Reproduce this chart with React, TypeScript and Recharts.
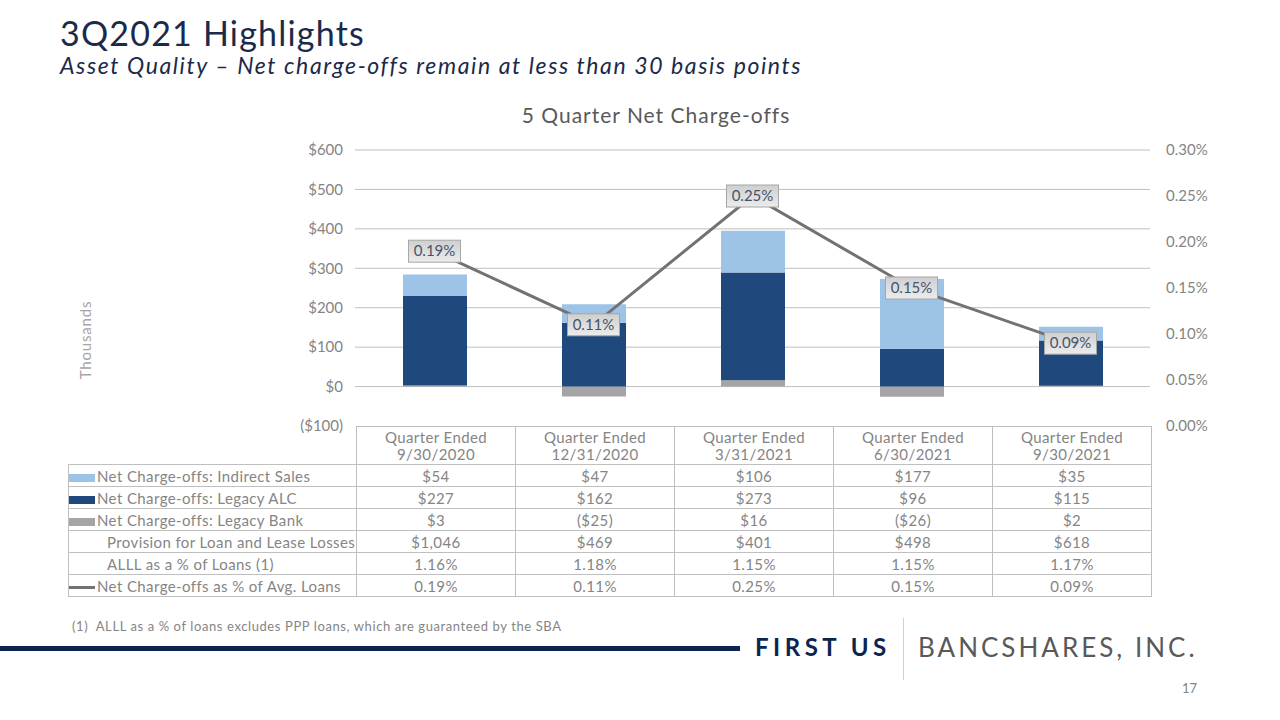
import { ComposedChart, Bar, Line, XAxis, YAxis, CartesianGrid } from 'recharts';

const quarters = ['9/30/2020', '12/31/2020', '3/31/2021', '6/30/2021', '9/30/2021'];
const indirectSales = [54, 47, 106, 177, 35];
const legacyAlc = [227, 162, 273, 96, 115];
const legacyBank = [3, -25, 16, -26, 2];
const provision = ['$1,046', '$469', '$401', '$498', '$618'];
const alllPct = ['1.16%', '1.18%', '1.15%', '1.15%', '1.17%'];
const ncoPct = [0.19, 0.11, 0.25, 0.15, 0.09];

const leftTicks = [-100, 0, 100, 200, 300, 400, 500, 600];
const gridTicks = [0, 100, 200, 300, 400, 500, 600];
const rightTicks = [0, 0.05, 0.1, 0.15, 0.2, 0.25, 0.3];

const LIGHT = '#9DC3E6';
const NAVY = '#1F497D';
const GRAY = '#A5A5A5';
const LINE = '#767171';
const FONT = 'Lato, "Open Sans", sans-serif';
const TEXT = '#858585';

const data = quarters.map((q, i) => ({
  quarter: q,
  indirect: indirectSales[i],
  alc: legacyAlc[i],
  bank: legacyBank[i],
  nco: ncoPct[i],
}));

const money = (v: number) => (v < 0 ? `($${-v})` : `$${v}`);
const pct = (v: number) => `${v.toFixed(2)}%`;

const PctLabel = (props: any) => {
  const { x, y, value } = props;
  const w = 52;
  const h = 22;
  return (
    <g>
      <defs>
        <linearGradient id="lblGrad" x1="0" y1="0" x2="0" y2="1">
          <stop offset="0%" stopColor="#CFCFCF" />
          <stop offset="100%" stopColor="#ECECEC" />
        </linearGradient>
      </defs>
      <rect x={x - w / 2} y={y - h / 2} width={w} height={h} fill="url(#lblGrad)" stroke="#A6A6A6" strokeWidth={1} />
      <text x={x} y={y + 5} textAnchor="middle" fontSize={15} fill="#44546A" fontFamily={FONT}>
        {pct(value)}
      </text>
    </g>
  );
};

const rowLabel: React.CSSProperties = {
  textAlign: 'left',
  paddingLeft: 6,
  whiteSpace: 'nowrap',
  border: '1px solid #BFBFBF',
};
const cell: React.CSSProperties = {
  textAlign: 'center',
  border: '1px solid #BFBFBF',
  height: 21,
  padding: 0,
};

const Key = ({ color, line }: { color: string; line?: boolean }) => (
  <span
    style={{
      display: 'inline-block',
      width: 26,
      height: line ? 3 : 8,
      background: color,
      verticalAlign: 'middle',
      marginRight: 2,
      marginLeft: -6,
    }}
  />
);

const rows: { label: string; key?: string; line?: boolean; values: string[] }[] = [
  { label: 'Net Charge-offs: Indirect Sales', key: LIGHT, values: indirectSales.map(money) },
  { label: 'Net Charge-offs: Legacy ALC', key: NAVY, values: legacyAlc.map(money) },
  { label: 'Net Charge-offs: Legacy Bank', key: GRAY, values: legacyBank.map(money) },
  { label: 'Provision for Loan and Lease Losses', values: provision },
  { label: 'ALLL as a % of Loans (1)', values: alllPct },
  { label: 'Net Charge-offs as % of Avg. Loans', key: LINE, line: true, values: ncoPct.map(pct) },
];

export default function App() {
  return (
    <div
      style={{
        position: 'fixed',
        left: 0,
        top: 0,
        width: 1280,
        height: 720,
        background: '#fff',
        fontFamily: FONT,
        overflow: 'hidden',
      }}
    >
      <div
        style={{
          position: 'absolute',
          left: 60,
          top: 13,
          fontSize: 34,
          letterSpacing: 1.2,
          color: '#1B2A4A',
          lineHeight: '40px',
        }}
      >
        3Q2021 Highlights
      </div>
      <div
        style={{
          position: 'absolute',
          left: 60,
          top: 50,
          fontSize: 23,
          fontStyle: 'italic',
          letterSpacing: 1.6,
          color: '#1B2A4A',
          lineHeight: '30px',
        }}
      >
        Asset Quality – Net charge-offs remain at less than 30 basis points
      </div>

      <div
        style={{
          position: 'absolute',
          left: 0,
          width: 1312,
          top: 102,
          textAlign: 'center',
          fontSize: 21,
          letterSpacing: 1,
          color: '#595959',
        }}
      >
        5 Quarter Net Charge-offs
      </div>

      <div
        style={{
          position: 'absolute',
          left: 85,
          top: 340,
          transform: 'translate(-50%, -50%) rotate(-90deg)',
          fontSize: 15,
          letterSpacing: 0.8,
          color: '#A6A6A6',
        }}
      >
        Thousands
      </div>

      <div style={{ position: 'absolute', left: 0, top: 0 }}>
        <ComposedChart
          width={1280}
          height={440}
          data={data}
          stackOffset="sign"
          margin={{ top: 150, left: 295, right: 70, bottom: 14 }}
        >
          <CartesianGrid yAxisId="left" vertical={false} stroke="#BFBFBF" horizontalValues={gridTicks} />
          <XAxis dataKey="quarter" hide />
          <YAxis
            yAxisId="left"
            width={60}
            domain={[-100, 600]}
            ticks={leftTicks}
            tickFormatter={money}
            axisLine={false}
            tickLine={false}
            tickMargin={6}
            tick={{ fill: TEXT, fontSize: 15, fontFamily: FONT }}
          />
          <YAxis
            yAxisId="right"
            orientation="right"
            width={60}
            domain={[0, 0.3]}
            ticks={rightTicks}
            tickFormatter={pct}
            axisLine={false}
            tickLine={false}
            tickMargin={10}
            tick={{ fill: TEXT, fontSize: 15, fontFamily: FONT, textAnchor: 'start' }}
          />
          <Bar yAxisId="left" dataKey="bank" stackId="a" fill={GRAY} barSize={64} isAnimationActive={false} />
          <Bar yAxisId="left" dataKey="alc" stackId="a" fill={NAVY} barSize={64} isAnimationActive={false} />
          <Bar yAxisId="left" dataKey="indirect" stackId="a" fill={LIGHT} barSize={64} isAnimationActive={false} />
          <Line
            yAxisId="right"
            dataKey="nco"
            stroke={LINE}
            strokeWidth={3}
            dot={false}
            label={<PctLabel />}
            isAnimationActive={false}
          />
        </ComposedChart>
      </div>

      <table
        style={{
          position: 'absolute',
          left: 68,
          top: 426,
          width: 1083,
          borderCollapse: 'collapse',
          tableLayout: 'fixed',
          fontSize: 15,
          letterSpacing: 0.4,
          color: TEXT,
        }}
      >
        <colgroup>
          <col style={{ width: 288 }} />
          {quarters.map((q) => (
            <col key={q} style={{ width: 159 }} />
          ))}
        </colgroup>
        <tbody>
          <tr>
            <td style={{ border: 'none' }} />
            {quarters.map((q) => (
              <td key={q} style={{ ...cell, height: 37, lineHeight: '17px' }}>
                Quarter Ended
                <br />
                {q}
              </td>
            ))}
          </tr>
          {rows.map((r) => (
            <tr key={r.label}>
              <td style={rowLabel}>
                {r.key ? <Key color={r.key} line={r.line} /> : <span style={{ display: 'inline-block', width: 32 }} />}
                {r.label}
              </td>
              {r.values.map((v, i) => (
                <td key={i} style={cell}>
                  {v}
                </td>
              ))}
            </tr>
          ))}
        </tbody>
      </table>

      <div style={{ position: 'absolute', left: 72, top: 618, fontSize: 13, letterSpacing: 0.6, color: TEXT }}>
        (1)&nbsp; ALLL as a % of loans excludes PPP loans, which are guaranteed by the SBA
      </div>

      <div style={{ position: 'absolute', left: 0, top: 646, width: 740, height: 5, background: '#0B2550' }} />
      <div
        style={{
          position: 'absolute',
          left: 755,
          top: 632,
          fontSize: 24,
          fontWeight: 700,
          letterSpacing: 4.5,
          color: '#0B2550',
        }}
      >
        FIRST US
      </div>
      <div style={{ position: 'absolute', left: 903, top: 618, width: 1, height: 62, background: '#D0D0D0' }} />
      <div
        style={{
          position: 'absolute',
          left: 918,
          top: 631,
          fontSize: 26,
          letterSpacing: 3,
          color: '#595959',
        }}
      >
        BANCSHARES, INC.
      </div>
      <div style={{ position: 'absolute', left: 1182, top: 680, fontSize: 13, color: TEXT }}>17</div>
    </div>
  );
}
